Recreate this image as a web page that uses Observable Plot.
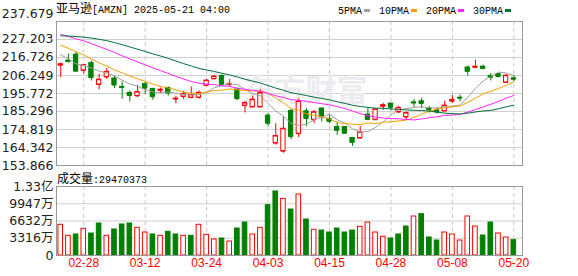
<!DOCTYPE html>
<html><head><meta charset="utf-8">
<script src="https://cdn.jsdelivr.net/npm/d3@7"></script>
<script src="https://cdn.jsdelivr.net/npm/@observablehq/plot@0.6"></script>
<style>
html,body{margin:0;padding:0;background:#fff;}
#wrap{position:relative;width:578px;height:276px;overflow:hidden;background:#fff;}
#main,#vol{position:absolute;left:0;}
#main{top:0}
#vol{top:172px}
.t{position:absolute;white-space:nowrap;color:#000;line-height:16px;}
.mono{font-family:"Liberation Mono",monospace;font-size:10px;}
.cjk{font-family:"Noto Sans CJK SC",sans-serif;font-size:12px;}
.dash{display:inline-block;width:6px;height:3px;vertical-align:middle;margin:0 9px 0 2px;}
</style></head><body>
<div id="wrap">
 <div id="main"></div>
 <div id="vol"></div>
 <div class="t" style="left:56px;top:0px;"><span class="cjk">亚马逊</span><span class="mono">[AMZN] 2025-05-21 04:00</span></div>
 <div class="t" id="legend" style="left:338px;top:1px;"></div>
 <div class="t" style="left:57px;top:170px;"><span class="cjk">成交量</span><span class="mono">:29470373</span></div>
</div>
<script>
const dates = ["02-25","02-26","02-27","02-28","03-03","03-04","03-05","03-06","03-07","03-10","03-11","03-12","03-13","03-14","03-17","03-18","03-19","03-20","03-21","03-24","03-25","03-26","03-27","03-28","03-31","04-01","04-02","04-03","04-04","04-07","04-08","04-09","04-10","04-11","04-14","04-15","04-16","04-17","04-21","04-22","04-23","04-24","04-25","04-28","04-29","04-30","05-01","05-02","05-05","05-06","05-07","05-08","05-09","05-12","05-13","05-14","05-15","05-16","05-19","05-20"];
const opens = [212.2,214.9,218.4,209.2,213.4,201.0,205.4,204.5,199.6,196.1,194.4,201.2,198.3,197.6,199.0,192.5,194.0,193.4,193.4,200.4,204.3,206.0,201.0,198.1,188.7,187.9,187.9,182.9,166.9,162.2,185.6,172.4,185.4,180.5,187.0,181.0,176.3,176.3,169.9,169.8,183.5,180.5,188.3,189.9,185.0,182.1,190.6,191.2,186.8,186.0,185.6,191.3,193.3,210.9,211.0,211.4,206.0,207.0,202.2,204.6];
const highs = [213.6,218.7,220.0,212.7,214.6,207.0,210.3,206.0,202.5,197.3,200.4,202.3,198.9,199.0,199.6,194.2,197.1,199.6,197.3,203.9,206.3,206.6,203.9,198.7,191.3,194.2,198.1,184.1,178.2,182.1,187.0,192.6,187.0,186.0,187.6,183.1,179.2,176.5,169.9,176.6,187.6,186.8,189.9,189.9,188.3,185.0,192.2,193.0,188.3,187.6,191.3,194.6,194.8,211.7,215.2,212.3,207.4,207.4,206.8,206.4];
const lows = [205.0,213.6,208.6,207.0,203.1,197.9,203.9,198.7,192.4,190.8,193.4,195.3,191.8,195.7,194.3,189.7,192.2,193.0,192.6,200.2,203.9,201.1,199.6,191.8,184.4,187.6,187.6,176.6,165.7,161.0,168.9,170.0,176.6,178.2,179.2,178.2,171.4,172.4,165.0,169.6,180.1,180.1,186.0,185.6,184.1,180.1,187.6,187.0,184.4,183.7,185.4,189.9,190.8,206.0,210.3,209.8,203.1,205.1,201.6,202.5];
const closes = [212.80,214.35,208.74,212.28,205.02,203.80,208.36,200.70,199.25,194.54,196.59,198.89,193.89,197.95,196.0,192.82,195.54,194.95,196.21,203.26,205.71,201.13,201.36,192.72,190.26,192.17,196.01,178.41,171.00,175.26,170.66,191.10,181.22,184.87,182.12,179.59,174.33,172.61,167.32,173.18,180.60,186.54,188.99,187.70,187.39,184.42,190.20,189.98,186.35,185.01,188.71,192.08,193.06,208.64,211.37,210.25,205.17,205.59,206.16,204.07];
const prevClose = 212.71;
const volumes = [5900,3790,4040,5130,4230,6150,3790,5000,5960,6150,5320,4420,4040,3790,4560,4040,3790,3790,5900,3980,3080,3270,2690,5190,6340,4040,5320,9670,12300,10890,8840,11730,6920,4940,4800,4420,5190,4420,4800,5520,6340,4420,3600,3270,4040,5570,7500,7940,3460,2880,4420,4040,2880,7500,5570,3840,6340,4230,3460,2947];
const ma5 = [218.32,215.86,213.04,212.18,210.64,208.84,207.64,206.03,203.43,201.33,199.89,197.99,196.63,196.37,196.61,195.86,195.19,195.40,195.05,196.56,199.13,200.25,201.53,200.84,198.24,195.53,194.50,189.91,185.57,182.57,178.27,177.29,177.85,180.62,181.99,183.78,180.43,178.70,175.19,173.41,173.61,176.05,179.33,183.40,186.24,187.01,187.74,187.94,187.67,187.19,188.05,188.43,189.04,193.50,198.77,203.08,205.70,208.20,207.71,206.25];
const ma10 = [223.90,222.06,220.04,218.23,215.86,213.58,211.75,209.53,207.80,205.98,204.36,202.82,201.33,199.90,198.97,197.87,196.59,196.02,195.71,196.58,197.50,197.72,198.47,197.94,197.40,197.33,197.38,195.72,193.20,190.40,186.90,185.90,183.88,183.10,182.28,181.02,178.86,178.28,177.91,177.70,178.69,178.24,179.02,179.30,179.83,180.31,181.90,183.63,185.54,186.72,187.53,188.08,188.49,190.58,192.98,195.57,197.06,198.62,200.60,202.51];
const ma20 = [230.17,228.98,227.56,226.44,224.81,223.13,221.44,219.67,217.69,215.96,214.13,212.44,210.69,209.06,207.42,205.73,204.17,202.78,201.76,201.28,200.93,200.27,199.90,198.92,198.18,197.60,196.98,195.87,194.46,193.49,192.20,191.81,191.17,190.52,189.84,189.18,188.12,187.00,185.56,184.05,182.80,182.07,181.45,181.20,181.05,180.67,180.38,180.95,181.72,182.21,183.11,183.16,183.75,184.94,186.40,187.94,189.48,191.13,193.07,194.61];
const ma30 = [229.36,229.23,228.93,228.56,228.04,227.30,226.55,225.41,224.20,222.86,221.56,220.26,218.82,217.59,216.20,214.71,213.16,211.78,210.36,209.50,208.59,207.53,206.61,205.36,204.08,202.93,201.91,200.43,198.91,197.66,196.25,195.48,194.56,193.65,192.88,192.08,190.94,190.01,188.94,188.23,187.70,187.28,187.12,186.78,186.50,186.22,186.04,185.88,185.55,184.94,184.37,184.07,183.80,184.33,185.03,185.63,185.94,186.84,188.02,188.98];
const maNames = ["5PMA","10PMA","20PMA","30PMA"];
const maColors = ["#a0a0a0","#f5a000","#ff22ff","#00703a"];
const priceTicks = [153.866,164.342,174.819,185.296,195.772,206.249,216.726,227.203,237.679];
const volTicks = [0,3316,6632,9947,13263];
const volLabels = ["0","3316万","6632万","9947万","1.33亿"];
const xTickLabels = ["02-28","03-12","03-24","04-03","04-15","04-28","05-08","05-20"];

const R = "#ff0000", G = "#008000";
const tickIdx = xTickLabels.map(s => dates.indexOf(s));
const candles = dates.map((d, i) => ({i, o: opens[i], h: highs[i], l: lows[i], c: closes[i], up: closes[i] >= opens[i]}));
const volData = volumes.map((v, i) => ({i, v, up: closes[i] >= (i ? closes[i-1] : prevClose)}));
const maSeries = [ma5, ma10, ma20, ma30];
const hw = 0.28;
const xDomain = [-0.55, 60.13];
const axisFont = "DejaVu Sans, Noto Sans CJK SC, sans-serif";

const main = Plot.plot({
  width: 578, height: 172, marginTop: 21, marginBottom: 7, marginLeft: 56, marginRight: 56,
  x: {type: "linear", domain: xDomain, axis: null},
  y: {domain: [priceTicks[0], priceTicks[priceTicks.length-1]], axis: null},
  color: {type: "identity"},
  style: {background: "transparent", overflow: "visible"},
  marks: [
    Plot.ruleY(priceTicks.slice(1, -1), {stroke: "#d0d0d0"}),
    Plot.ruleX(tickIdx, {stroke: "#c8c8c8", strokeDasharray: "4,3"}),
    Plot.text(["东方财富"], {frameAnchor: "top-left", textAnchor: "start", lineAnchor: "middle", dx: 187, dy: 70, fontSize: 31, fontWeight: "bold", fontFamily: "Noto Sans CJK SC", fill: "#ebebf0"}),
    Plot.ruleX(candles, {x: "i", y1: "l", y2: "h", stroke: d => d.up ? R : G}),
    Plot.rect(candles, {x1: d => d.i - hw, x2: d => d.i + hw, y1: "o", y2: "c", fill: d => d.up ? "#fff" : G, stroke: d => d.up ? R : G}),
    Plot.ruleY(candles, {y: "c", x1: d => d.i - hw, x2: d => d.i + hw, stroke: d => d.up ? R : G}),
    Plot.ruleY(candles, {y: "o", x1: d => d.i - hw, x2: d => d.i + hw, stroke: d => d.up ? R : G}),
    ...maSeries.map((s, k) => Plot.line(s.map((v, i) => ({i, v})), {x: "i", y: "v", stroke: maColors[k], strokeWidth: 1})),
    Plot.frame({stroke: "#999"}),
    Plot.text(priceTicks.slice(0, -1), {frameAnchor: "left", y: d => d, text: d => d.toFixed(3), textAnchor: "end", dx: -3, fontSize: 12.5, fontFamily: axisFont, fill: "#222"}),
    Plot.text(priceTicks.slice(-1), {frameAnchor: "left", y: d => d, text: d => d.toFixed(3), textAnchor: "end", dx: -3, dy: -8, fontSize: 12.5, fontFamily: axisFont, fill: "#222"})
  ]
});
document.getElementById("main").appendChild(main);

const vol = Plot.plot({
  width: 578, height: 104, marginTop: 14, marginBottom: 21, marginLeft: 56, marginRight: 56,
  x: {type: "linear", domain: xDomain, axis: null},
  y: {domain: [0, volTicks[volTicks.length-1]], axis: null},
  color: {type: "identity"},
  style: {background: "transparent", overflow: "visible"},
  marks: [
    Plot.ruleY(volTicks.slice(1, -1), {stroke: "#d0d0d0"}),
    Plot.ruleX(tickIdx, {stroke: "#c8c8c8", strokeDasharray: "4,3"}),
    Plot.rect(volData, {x1: d => d.i - 0.3, x2: d => d.i + 0.3, y1: 0, y2: "v", fill: d => d.up ? "#fff" : G, stroke: d => d.up ? R : G}),
    Plot.frame({stroke: "#999"}),
    Plot.text(volTicks, {frameAnchor: "left", y: d => d, text: (d, i) => volLabels[i], textAnchor: "end", dx: -3, fontSize: 12.5, fontFamily: axisFont, fill: "#222"}),
    Plot.text(tickIdx, {x: d => d, frameAnchor: "bottom", dy: 11, text: (d, i) => xTickLabels[i], fill: R, fontSize: 12, fontFamily: "Liberation Sans"})
  ]
});
document.getElementById("vol").appendChild(vol);

const leg = document.getElementById("legend");
maNames.forEach((n, k) => {
  const s = document.createElement("span"); s.className = "mono"; s.textContent = n; leg.appendChild(s);
  const b = document.createElement("span"); b.className = "dash"; b.style.background = maColors[k]; leg.appendChild(b);
});
</script>
</body></html>
